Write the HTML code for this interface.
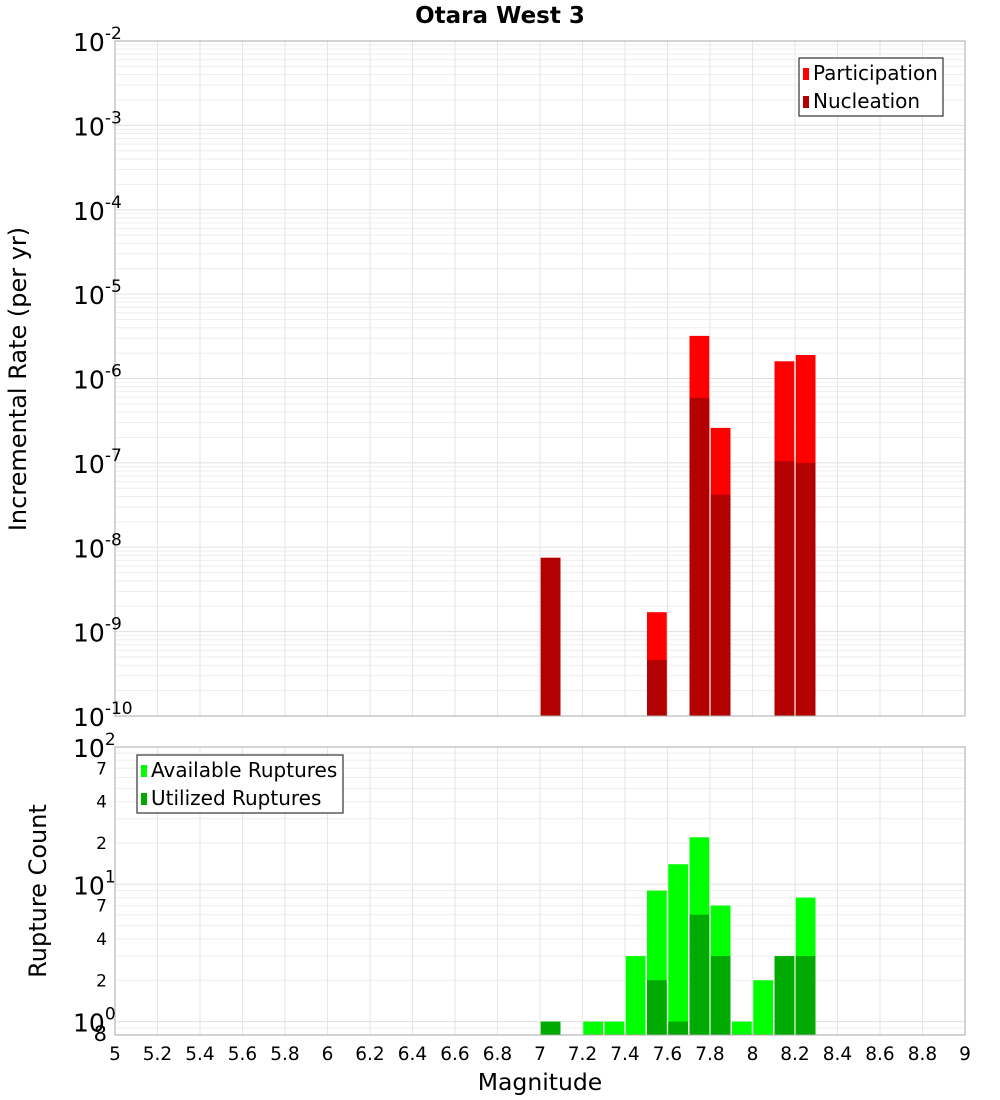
<!DOCTYPE html>
<html><head><meta charset="utf-8"><style>
html,body{margin:0;padding:0;background:#fff;}
svg{display:block;font-family:"DejaVu Sans","Liberation Sans",sans-serif;}
</style></head><body>
<svg id="c" width="1000" height="1100" viewBox="0 0 1000 1100" xmlns="http://www.w3.org/2000/svg">
<text x="500" y="23" text-anchor="middle" font-size="23" font-weight="bold">Otara West 3</text>
<text transform="translate(26,379) rotate(-90)" text-anchor="middle" font-size="24">Incremental Rate (per yr)</text>
<text transform="translate(46,891) rotate(-90)" text-anchor="middle" font-size="24">Rupture Count</text>
<text x="540" y="1090" text-anchor="middle" font-size="23.5">Magnitude</text>
</svg>
<script>
const mags = [7.05, 7.55, 7.75, 7.85, 8.15, 8.25];
const participation = [7.5e-9, 1.7e-9, 3.2e-6, 2.6e-7, 1.6e-6, 1.9e-6];
const nucleation = [7.5e-9, 4.6e-10, 5.9e-7, 4.2e-8, 1.05e-7, 1.0e-7];
const countMags = [7.05, 7.25, 7.35, 7.45, 7.55, 7.65, 7.75, 7.85, 7.95, 8.05, 8.15, 8.25];
const available = [1, 1, 1, 3, 9, 14, 22, 7, 1, 2, 3, 8];
const utilized = [1, 0, 0, 0, 2, 1, 6, 3, 0, 0, 3, 3];
const xTicks = [5,5.2,5.4,5.6,5.8,6,6.2,6.4,6.6,6.8,7,7.2,7.4,7.6,7.8,8,8.2,8.4,8.6,8.8,9];
const topExps = [-2,-3,-4,-5,-6,-7,-8,-9,-10];

const svg = document.getElementById('c');
const NS = 'http://www.w3.org/2000/svg';
function el(tag, attrs, parent){const e=document.createElementNS(NS,tag);for(const k in attrs)e.setAttribute(k,attrs[k]);(parent||svg).appendChild(e);return e;}
const X0=115,X1=965;
const x = m => X0 + (m-5)/4*(X1-X0);
const T0=41,T1=716;
const yTop = v => T0 + (-2 - Math.log10(v))*(T1-T0)/8;
const B0=747,B1=1035,BD=137.3;
const yBot = v => B0 + (2 - Math.log10(v))*BD;

for(let e=-10;e<-2;e++){for(let k=1;k<10;k++){const yy=yTop(k*Math.pow(10,e));
 const g=el('line',{x1:X0,x2:X1,y1:yy,y2:yy,stroke:k===1?'#e0e0e0':'#eeeeee','stroke-width':1});
 
 }}
for(let e=-1;e<2;e++){for(let k=1;k<10;k++){const v=k*Math.pow(10,e);if(v<0.8)continue;const yy=yBot(v);
 const g=el('line',{x1:X0,x2:X1,y1:yy,y2:yy,stroke:k===1?'#e0e0e0':'#eeeeee','stroke-width':1});
 
 }}
xTicks.forEach(t=>{
 const g1=el('line',{x1:x(t),x2:x(t),y1:T0,y2:T1,stroke:'#e6e6e6'});
 
 
 const g2=el('line',{x1:x(t),x2:x(t),y1:B0,y2:B1,stroke:'#e6e6e6'});
 
 
 const tl=el('text',{x:x(t),y:1060,'text-anchor':'middle','font-size':18.5});
 tl.textContent=String(t);
 
 
});
const bw=(x(0.1)-x(0))-1.5;
mags.forEach((m,i)=>{
 const p=el('rect',{x:x(m-0.05)+0.75,y:yTop(participation[i]),width:bw,height:T1-yTop(participation[i]),fill:'#ff0000'});
 
 
 const n=el('rect',{x:x(m-0.05)+0.75,y:yTop(nucleation[i]),width:bw,height:T1-yTop(nucleation[i]),fill:'#b30000'});
 
 
});
countMags.forEach((m,i)=>{
 if(available[i]>0){const a=el('rect',{x:x(m-0.05)+0.75,y:yBot(available[i]),width:bw,height:B1-yBot(available[i]),fill:'#00ff00'});
 
 }
 if(utilized[i]>0){const u=el('rect',{x:x(m-0.05)+0.75,y:yBot(utilized[i]),width:bw,height:B1-yBot(utilized[i]),fill:'#00aa00'});
 
 }
});
const f1=el('rect',{x:X0,y:T0,width:X1-X0,height:T1-T0,fill:'none',stroke:'#aaaaaa'});


const f2=el('rect',{x:X0,y:B0,width:X1-X0,height:B1-B0,fill:'none',stroke:'#aaaaaa'});


topExps.forEach(e=>{
 const yy=yTop(Math.pow(10,e));
 const t=el('text',{x:73,y:yy+10,'font-size':25});
 
 
 const s1=el('tspan',{},t);s1.textContent='10';
 const s2=el('tspan',{dy:-12,'font-size':17},t);s2.textContent=String(e);
});
[[100,'2'],[10,'1'],[1,'0']].forEach(([v,e])=>{
 const yy=yBot(v);
 const t=el('text',{x:73,y:yy+10,'font-size':25});
 
 
 const s1=el('tspan',{},t);s1.textContent='10';
 const s2=el('tspan',{dy:-12,'font-size':17},t);s2.textContent=e;
});
[[70,'7'],[40,'4'],[20,'2'],[7,'7'],[4,'4'],[2,'2'],[0.8,'8']].forEach(([v,l])=>{
 const t=el('text',{x:107,y:yBot(v)+6,'text-anchor':'end','font-size':v===0.8?21:17});
 t.textContent=l;
 
 
});
function legend(x0,y0,w,items,name){
 const g=el('g',{});
 
 
 el('rect',{x:x0,y:y0,width:w,height:58,fill:'#fff',stroke:'#333','stroke-width':1.2},g);
 items.forEach(([c,l],i)=>{
  el('rect',{x:x0+4,y:y0+10+i*28,width:6,height:12,fill:c},g);
  const t=el('text',{x:x0+14,y:y0+22+i*28,'font-size':20},g);t.textContent=l;
 });
}
legend(799,58,144,[['#ff0000','Participation'],['#b30000','Nucleation']],'top-legend');
legend(137,755,206,[['#00ff00','Available Ruptures'],['#00aa00','Utilized Ruptures']],'bottom-legend');
</script>
</body></html>
